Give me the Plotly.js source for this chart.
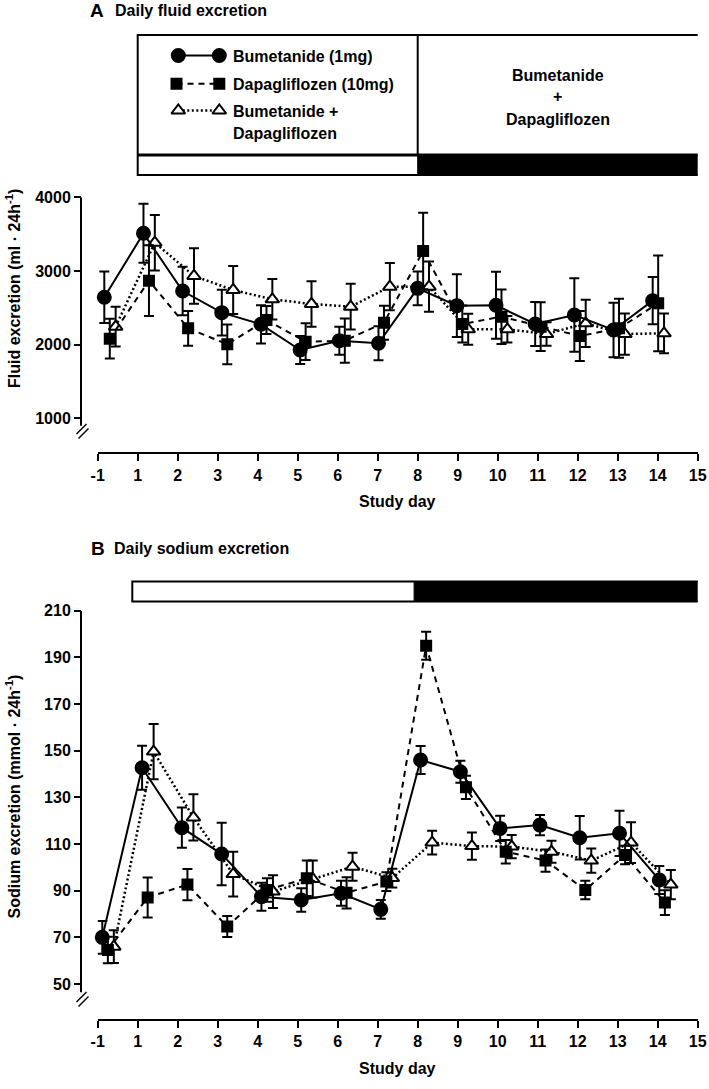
<!DOCTYPE html>
<html><head><meta charset="utf-8">
<script src="https://cdn.plot.ly/plotly-3.0.1.min.js"></script>
<style>html,body{margin:0;padding:0;background:#fff}</style>
</head><body><div id="chart" style="width:709px;height:1089px"></div>
<script>
// ---------- data ----------
const days = [-1, 1, 2, 3, 4, 5, 6, 7, 8, 9, 10, 11, 12, 13, 14];
const tickLabels = ['-1','1','2','3','4','5','6','7','8','9','10','11','12','13','14','15'];
const seriesNames = ['Bumetanide (1mg)', 'Dapagliflozen (10mg)', 'Bumetanide + Dapagliflozen'];

const fluidBumetanide    = [2643, 3511, 2728, 2434, 2276, 1927, 2054, 2018, 2764, 2529, 2534, 2280, 2402, 2199, 2597];
const fluidBumetanideSE  = [350, 400, 330, 310, 260, 190, 190, 230, 230, 425, 455, 300, 500, 370, 320];
const fluidDapagliflozen   = [2081, 2868, 2222, 2005, 2335, 2040, 2054, 2298, 3271, 2280, 2380, 2244, 2117, 2222, 2561];
const fluidDapagliflozenSE = [270, 480, 236, 270, 190, 250, 300, 230, 520, 250, 370, 330, 340, 400, 650];
const fluidCombo   = [2244, 3384, 2932, 2742, 2615, 2552, 2515, 2787, 2787, 2208, 2208, 2144, 2289, 2144, 2154];
const fluidComboSE = [270, 376, 376, 325, 275, 310, 310, 320, 340, 210, 180, 160, 320, 280, 270];

const sodiumBumetanide   = [70, 142.7, 117, 105.7, 87.4, 86, 88.9, 82, 146, 141, 116.7, 118.1, 112.7, 114.6, 94.6];
const sodiumBumetanideSE = [7, 9.4, 8.6, 13.4, 6, 5, 5.4, 4, 6, 4.7, 5.4, 4.3, 9.3, 9.7, 6];
const sodiumDapagliflozen   = [64.6, 87.1, 92.6, 74.6, 90.3, 95.3, 89.1, 93.9, 195, 134.3, 106.7, 102.9, 90.3, 105.3, 84.9];
const sodiumDapagliflozenSE = [5.7, 8.6, 6.7, 4.5, 5, 7.6, 6.7, 4, 6, 5, 5, 4.8, 4, 4, 5.3];
const sodiumCombo   = [66, 149.6, 121.4, 97.1, 89.6, 95, 100.3, 95.4, 110.6, 109.1, 108.9, 106.7, 102.9, 110.6, 92.6];
const sodiumComboSE = [7, 11.8, 9.9, 9.6, 7, 7.9, 6, 4, 5.1, 5.8, 5, 4.7, 5.2, 8.7, 6.3];

const fluidTicks = [1000, 2000, 3000, 4000];
const sodiumTicks = [50, 70, 90, 110, 130, 150, 170, 190, 210];

// treatment periods (single drug days 1-8, combination days 8-15), on the tick axis
const periodTop = [1, 8, 15.04];
const periodBottom = [0.865, 7.91, 15.07];

// ---------- layout helpers ----------
const W = 709, H = 1089, ML = 81, MR = 11;
const PW = W - ML - MR;
const fx = px => (px - ML) / PW;
const fy = py => 1 - py / H;
const FONT = 'Liberation Sans, Arial, Helvetica, sans-serif';
const dayIndex = days.map(d => d < 0 ? 0 : d);   // day -1 sits in slot 0
const tickIdx = tickLabels.map((t, i) => i);
const dodge = [0, 0.14, 0.29];

const styles = [
  {symbol: 'circle', size: 13, color: 'black', dash: 'solid', lw: 2},
  {symbol: 'square', size: 10, color: 'black', dash: '6px,5px', lw: 2},
  {symbol: 'triangle-up', size: 12, color: 'white', dash: '2px,2.5px', lw: 2.5}
];

function mk(i, ys, se, xa, ya) {
  const s = styles[i];
  return {
    type: 'scatter', mode: 'lines+markers', name: seriesNames[i],
    x: dayIndex.map(v => v + dodge[i]), y: ys,
    xaxis: xa, yaxis: ya, cliponaxis: false,
    line: {color: 'black', width: s.lw, dash: s.dash},
    marker: {symbol: s.symbol, size: s.size, color: s.color, line: {color: 'black', width: 2}},
    error_y: {type: 'data', array: se, visible: true, color: 'black', thickness: 2, width: 5},
    hoverinfo: 'skip'
  };
}
function legendSample(i, xs, y) {
  const s = styles[i];
  return {
    type: 'scatter', mode: 'lines+markers', x: xs, y: [y, y], xaxis: 'x5', yaxis: 'y3',
    cliponaxis: false, showlegend: false, hoverinfo: 'skip',
    line: {color: 'black', width: s.lw, dash: s.dash},
    marker: {symbol: s.symbol, size: s.size, color: s.color, line: {color: 'black', width: 2}}
  };
}

const traces = [
  mk(2, fluidCombo, fluidComboSE, 'x2', 'y'),
  mk(1, fluidDapagliflozen, fluidDapagliflozenSE, 'x2', 'y'),
  mk(0, fluidBumetanide, fluidBumetanideSE, 'x2', 'y'),
  mk(2, sodiumCombo, sodiumComboSE, 'x4', 'y2'),
  mk(1, sodiumDapagliflozen, sodiumDapagliflozenSE, 'x4', 'y2'),
  mk(0, sodiumBumetanide, sodiumBumetanideSE, 'x4', 'y2'),
  legendSample(0, [178.3, 219.3], 55.5),
  legendSample(1, [176.5, 219.3], 83.8),
  legendSample(2, [178.3, 219.3], 110.5)
];

const tickFont = {family: FONT, size: 16, color: 'black', weight: 700};
const xBase = {
  range: [0, 15], tickmode: 'array', tickvals: tickIdx, ticktext: tickLabels,
  ticks: 'outside', ticklen: 7, tickwidth: 2, tickcolor: 'black',
  showline: true, linewidth: 2, linecolor: 'black', showgrid: false, zeroline: false,
  tickfont: tickFont, fixedrange: true, domain: [fx(97.7), fx(697.7)]
};
const yBase = {
  anchor: 'free', position: 0, ticks: 'outside', ticklen: 7, tickwidth: 2, tickcolor: 'black',
  showline: false, showgrid: false, zeroline: false, tickfont: tickFont, fixedrange: true,
  tickmode: 'array'
};

const L = (x0, y0, x1, y1, w) => ({type: 'line', xref: 'paper', yref: 'paper',
  x0: fx(x0), y0: fy(y0), x1: fx(x1), y1: fy(y1), line: {color: 'black', width: w || 2}});

const shapes = [
  // y axis lines with break marks
  {type: 'line', xref: 'paper', yref: 'y', x0: 0, x1: 0, y0: 4000, y1: 900, line: {color: 'black', width: 2}},
  L(76.5, 434, 86.5, 424, 1.5), L(78.5, 438.5, 88.5, 428.5, 1.5),
  {type: 'line', xref: 'paper', yref: 'y2', x0: 0, x1: 0, y0: 210, y1: 46.5, line: {color: 'black', width: 2}},
  L(76.5, 1002, 86.5, 992, 1.5), L(78.5, 1006.5, 88.5, 996.5, 1.5),
  // legend box (panel A)
  {type: 'rect', xref: 'x', yref: 'paper', x0: periodTop[0], x1: periodTop[2], y0: fy(175), y1: fy(35),
   line: {color: 'black', width: 2}, fillcolor: 'rgba(0,0,0,0)'},
  {type: 'line', xref: 'x', yref: 'paper', x0: periodTop[1], x1: periodTop[1], y0: fy(35), y1: fy(155),
   line: {color: 'black', width: 2}},
  {type: 'line', xref: 'x', yref: 'paper', x0: periodTop[0], x1: periodTop[2], y0: fy(155), y1: fy(155),
   line: {color: 'black', width: 3}},
  {type: 'rect', xref: 'x', yref: 'paper', x0: periodTop[1], x1: periodTop[2], y0: fy(175), y1: fy(155),
   line: {color: 'black', width: 1}, fillcolor: 'black'},
  // period bar (panel B)
  {type: 'rect', xref: 'x3', yref: 'paper', x0: periodBottom[0], x1: periodBottom[2], y0: fy(601.5), y1: fy(581.5),
   line: {color: 'black', width: 2}, fillcolor: 'white'},
  {type: 'rect', xref: 'x3', yref: 'paper', x0: periodBottom[1], x1: periodBottom[2], y0: fy(601.5), y1: fy(581.5),
   line: {color: 'black', width: 1}, fillcolor: 'black'}
];

const A = (text, x, y, opts) => Object.assign({
  text: text, xref: 'paper', yref: 'paper', x: fx(x), y: fy(y), showarrow: false,
  xanchor: 'left', yanchor: 'middle', font: {family: FONT, size: 16, color: 'black', weight: 700}
}, opts || {});

const annotations = [
  A('A', 88, 10, {font: {family: FONT, size: 19, color: 'black', weight: 700}}),
  A('Daily fluid excretion', 112.7, 10),
  A('B', 89.3, 548.3, {font: {family: FONT, size: 19, color: 'black', weight: 700}}),
  A('Daily sodium excretion', 111.7, 548.3),
  A('Bumetanide (1mg)', 231, 56),
  A('Dapagliflozen (10mg)', 231, 84.3),
  A('Bumetanide +', 231, 111),
  A('Dapagliflozen', 231, 134),
  A('Bumetanide', 557.7, 75, {xanchor: 'center'}),
  A('+', 557.7, 96.7, {xanchor: 'center'}),
  A('Dapagliflozen', 557.7, 119.3, {xanchor: 'center'}),
  A('Fluid excretion (ml · 24h<sup>-1</sup>)', 13, 289, {xanchor: 'center', textangle: -90}),
  A('Sodium excretion (mmol · 24h<sup>-1</sup>)', 13, 796.5, {xanchor: 'center', textangle: -90}),
  A('Study day', 397.7, 502, {xanchor: 'center'}),
  A('Study day', 397.7, 1068.7, {xanchor: 'center'})
];

const layout = {
  width: W, height: H, margin: {l: ML, r: MR, t: 0, b: 0, pad: 0},
  paper_bgcolor: 'white', plot_bgcolor: 'white', showlegend: false,
  font: {family: FONT, color: 'black'},
  xaxis: Object.assign({}, xBase, {anchor: 'y'}),
  xaxis2: {overlaying: 'x', anchor: 'y', range: [-0.1685, 15.149], visible: false, fixedrange: true,
           domain: [fx(97.7), fx(697.7)]},
  yaxis: Object.assign({}, yBase, {domain: [fy(452.3), fy(197.3)], range: [538.6, 4000], tickvals: fluidTicks}),
  xaxis3: Object.assign({}, xBase, {anchor: 'y2'}),
  xaxis4: {overlaying: 'x3', anchor: 'y2', range: [-0.1156, 14.965], visible: false, fixedrange: true,
           domain: [fx(97.7), fx(697.7)]},
  yaxis2: Object.assign({}, yBase, {domain: [fy(1019), fy(610.7)], range: [35, 210], tickvals: sodiumTicks}),
  xaxis5: {domain: [fx(136.7), fx(417.7)], range: [136.7, 417.7], anchor: 'y3', visible: false, fixedrange: true},
  yaxis3: {domain: [fy(155), fy(35)], range: [155, 35], anchor: 'x5', visible: false, fixedrange: true},
  shapes: shapes, annotations: annotations
};

Plotly.newPlot('chart', traces, layout, {staticPlot: true, displayModeBar: false});
</script></body></html>
